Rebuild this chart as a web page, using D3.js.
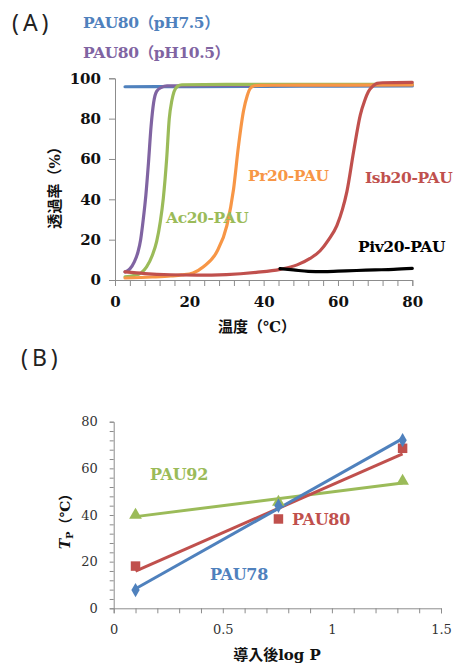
<!DOCTYPE html>
<html><head><meta charset="utf-8">
<script src="https://cdn.jsdelivr.net/npm/d3@7"></script>
<style>
body{margin:0;background:#fff;}
svg{display:block;}
</style>
</head><body>
<svg id="c" width="453" height="665"></svg>
<script>
// ---------- Chart A data: temperature (°C) vs transmittance (%) ----------
const tPH75 = [2.7, 20, 40, 60, 80];
const vPH75 = [95.8, 95.9, 96.0, 96.1, 96.2];
const tPH105 = [2.7, 4.0, 5.2, 6.2, 6.9, 7.6, 8.3, 9.0, 9.7, 10.4, 11.2, 12.5, 14, 30, 60, 80];
const vPH105 = [4, 5.5, 9, 14, 20, 30, 42, 58, 76, 88, 93.5, 95.5, 96.2, 96.5, 96.6, 96.8];
const tAc = [2.7, 5, 7, 8.5, 10, 11.2, 12.2, 13.0, 13.9, 14.6, 15.3, 15.9, 16.8, 18, 30, 60, 80];
const vAc = [1.6, 2.2, 3.5, 6.5, 12, 19, 29, 40.5, 60, 80, 89, 93.5, 96, 96.8, 97, 97, 97];
const tPr = [2.7, 10, 15, 18, 21, 23.8, 27.4, 30.1, 31.9, 33.2, 34.6, 35.6, 36.4, 37.5, 39, 50, 80];
const vPr = [1, 1.5, 2, 2.5, 3.5, 6.6, 14, 27, 45, 66, 84, 91.5, 95, 96.3, 96.5, 96.6, 96.7];
const tIsb = [2.7, 8, 15, 22, 30, 38, 44.4, 49, 52.5, 55.2, 57.5, 59.7, 61.2, 62.4, 64.2, 66, 67.2, 68.2, 69.5, 70.5, 72, 80];
const vIsb = [4, 3.2, 2.6, 2.4, 2.7, 3.8, 5.3, 7.5, 10.7, 14.5, 20, 27, 35, 43.8, 63.6, 81.8, 89, 93.4, 96.3, 97.5, 97.8, 98];
const tPiv = [44.4, 48, 52, 56, 60, 65, 70, 75, 80];
const vPiv = [5.6, 5.0, 4.3, 4.2, 4.4, 4.7, 5.0, 5.3, 5.8];
const aXTicks = [0, 20, 40, 60, 80];
const aYTicks = [0, 20, 40, 60, 80, 100];

// ---------- Chart B data: log P vs Tp (°C) ----------
const logP = [0.1, 0.755, 1.324];
const tp78 = [7.8, 44, 72.1];
const tp80 = [18.1, 38.3, 68.6];
const tp92 = [40, 45.5, 54.5];
const bXTicks = [0, 0.5, 1, 1.5];
const bYTicks = [0, 20, 40, 60, 80];

const C = {blue:"#4F81BD", red:"#C0504D", green:"#9BBB59", purple:"#8064A2", orange:"#F79646", black:"#000"};
const SERIF = "'DejaVu Serif', 'Liberation Serif', 'Noto Sans CJK JP', serif";
const SANS = "'Noto Sans', 'DejaVu Sans', sans-serif";
const svg = d3.select("#c");
const axisColor = "#8c8c8c";

// ================= Chart A =================
const ax = d3.scaleLinear().domain([0, 80]).range([115, 412.3]);
const ay = d3.scaleLinear().domain([0, 100]).range([280, 78.3]);

svg.append("text").attr("x", 12).attr("y", 31).attr("font-family", SANS)
  .attr("font-size", 23).attr("fill", "#222").attr("letter-spacing", 4).text("(A)");

const gAx = svg.append("g").attr("transform", `translate(0,${ay(0)})`)
  .call(d3.axisBottom(ax).tickValues(d3.range(0, 81, 4)).tickSize(6).tickPadding(10)
    .tickFormat(d => aXTicks.includes(d) ? d : ""));
const gAy = svg.append("g").attr("transform", `translate(${ax(0)},0)`)
  .call(d3.axisLeft(ay).tickValues(aYTicks).tickSize(6).tickPadding(8));
[gAx, gAy].forEach(g => {
  g.attr("font-family", SERIF);
  g.selectAll("path,line").attr("stroke", axisColor);
  g.selectAll("text").attr("font-family", SERIF).attr("font-size", 15).attr("font-weight", "bold").attr("fill", "#111");
});

const lineA = d3.line().x(d => ax(d[0])).y(d => ay(d[1])).curve(d3.curveMonotoneX);
const seriesA = [
  [tPH75, vPH75, C.blue],
  [tPH105, vPH105, C.purple],
  [tAc, vAc, C.green],
  [tPr, vPr, C.orange],
  [tIsb, vIsb, C.red],
  [tPiv, vPiv, C.black]
];
seriesA.forEach(([t, v, col]) => {
  svg.append("path").datum(d3.zip(t, v)).attr("d", lineA).attr("fill", "none")
    .attr("stroke", col).attr("stroke-width", 3.2).attr("stroke-linecap", "round");
});

const labA = [
  ["PAU80（pH7.5）", 83, 28, "#4F81BD"],
  ["PAU80（pH10.5）", 83, 58, "#8064A2"],
  ["Ac20-PAU", 166, 223, "#9BBB59"],
  ["Pr20-PAU", 248, 181, "#F79646"],
  ["Isb20-PAU", 365, 183, "#C0504D"],
  ["Piv20-PAU", 358, 252, "#000"]
];
labA.forEach(([s, x, y, col]) => {
  svg.append("text").attr("font-family", SERIF).attr("x", x).attr("y", y).attr("font-size", 15.5)
    .attr("font-weight", "bold").attr("fill", col).attr("letter-spacing", -0.4).text(s);
});

svg.append("text").attr("font-family", SERIF).attr("x", 257).attr("y", 332).attr("text-anchor", "middle")
  .attr("font-size", 15).attr("font-weight", "bold").attr("fill", "#111").text("温度（℃）");
svg.append("text").attr("font-family", SERIF).attr("transform", "translate(60,184) rotate(-90)")
  .attr("text-anchor", "middle").attr("font-size", 15).attr("font-weight", "bold").attr("fill", "#111")
  .text("透過率（%）");

// ================= Chart B =================
const bx = d3.scaleLinear().domain([0, 1.5]).range([113.7, 441]);
const by = d3.scaleLinear().domain([0, 80]).range([608.3, 421.7]);

svg.append("text").attr("x", 21).attr("y", 366).attr("font-family", SANS)
  .attr("font-size", 23).attr("fill", "#222").attr("letter-spacing", 4).text("(B)");

const gBx = svg.append("g").attr("transform", `translate(0,${by(0)})`)
  .call(d3.axisBottom(bx).tickValues(d3.range(0, 16).map(i => i / 10)).tickSize(5).tickPadding(11)
    .tickFormat(d => bXTicks.some(t => Math.abs(t - d) < 1e-9) ? d3.format("")(d) : ""));
const gBy = svg.append("g").attr("transform", `translate(${bx(0)},0)`)
  .call(d3.axisLeft(by).tickValues(d3.range(0, 81, 4)).tickSize(4).tickPadding(12)
    .tickFormat(d => bYTicks.includes(d) ? d : ""));
[gBx, gBy].forEach(g => {
  g.attr("font-family", SERIF);
  g.selectAll("path,line").attr("stroke", axisColor);
  g.selectAll("text").attr("font-family", SERIF).attr("font-size", 13).attr("fill", "#333");
});

function linreg(xs, ys) {
  const mx = d3.mean(xs), my = d3.mean(ys);
  const sxy = d3.sum(xs, (x, i) => (x - mx) * (ys[i] - my));
  const sxx = d3.sum(xs, x => (x - mx) ** 2);
  const m = sxy / sxx;
  return x => my + m * (x - mx);
}

const seriesB = [
  [tp92, C.green, d3.symbolTriangle, 70],
  [tp80, C.red, d3.symbolSquare, 90],
  [tp78, C.blue, d3.symbolDiamond, 60]
];
seriesB.forEach(([ys, col]) => {
  const f = linreg(logP, ys);
  const x0 = d3.min(logP), x1 = d3.max(logP);
  svg.append("line").attr("x1", bx(x0)).attr("y1", by(f(x0))).attr("x2", bx(x1)).attr("y2", by(f(x1)))
    .attr("stroke", col).attr("stroke-width", 3);
});
seriesB.forEach(([ys, col, sym, size]) => {
  logP.forEach((x, i) => {
    svg.append("path").attr("d", d3.symbol(sym, size)())
      .attr("transform", `translate(${bx(x)},${by(ys[i])})`).attr("fill", col);
  });
});

const labB = [
  ["PAU92", 150, 480, "#9BBB59"],
  ["PAU80", 292, 525, "#C0504D"],
  ["PAU78", 210, 580, "#4F81BD"]
];
labB.forEach(([s, x, y, col]) => {
  svg.append("text").attr("font-family", SERIF).attr("x", x).attr("y", y).attr("font-size", 16)
    .attr("font-weight", "bold").attr("fill", col).attr("letter-spacing", -0.3).text(s);
});

svg.append("text").attr("font-family", SERIF).attr("x", 277).attr("y", 660).attr("text-anchor", "middle")
  .attr("font-size", 15).attr("font-weight", "bold").attr("fill", "#111").text("導入後log P");
const yl = svg.append("text").attr("font-family", SERIF).attr("transform", "translate(70,518) rotate(-90)")
  .attr("text-anchor", "middle").attr("font-size", 14).attr("font-weight", "bold").attr("fill", "#111");
yl.append("tspan").attr("font-style", "italic").text("T");
yl.append("tspan").attr("font-size", 10).attr("dy", 3).text("P");
yl.append("tspan").attr("dy", -3).text("（℃）");
</script>
</body></html>
